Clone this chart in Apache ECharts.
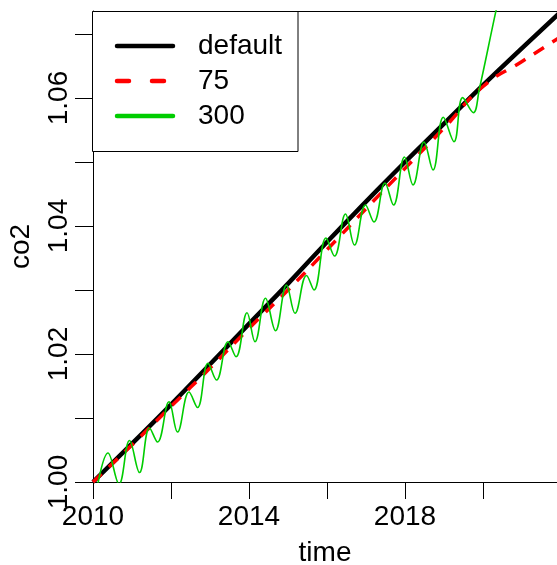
<!DOCTYPE html>
<html>
<head>
<meta charset="utf-8">
<script src="https://cdn.jsdelivr.net/npm/echarts@6/dist/echarts.min.js"></script>
<style>
  html, body { margin: 0; padding: 0; background: #fff; }
  #chart { width: 557px; height: 565px; }
</style>
</head>
<body>
<div id="chart"></div>
<script>
// Smoothed co2 index by time: default fit, span 75 and span 300
const fitYears = [2010, 2011, 2012, 2013, 2014, 2015, 2016, 2017, 2018, 2019, 2020, 2021, 2022];
const fitDefault = [1.0000, 1.0060, 1.0121, 1.0184, 1.0247, 1.0310, 1.0375, 1.0438, 1.0500, 1.0560, 1.0620, 1.0678, 1.0735];
const fit75 = [1.0000, 1.0058, 1.0118, 1.0178, 1.0240, 1.0300, 1.0363, 1.0427, 1.0490, 1.0553, 1.0618, 1.0657, 1.0696];

const fit300Years = [
  2010.077, 2010.385, 2010.667, 2010.936, 2011.192, 2011.449, 2011.654, 2011.949,
  2012.167, 2012.462, 2012.679, 2012.949, 2013.167, 2013.462, 2013.667, 2013.949,
  2014.154, 2014.423, 2014.679, 2014.962, 2015.179, 2015.474, 2015.667, 2015.974,
  2016.192, 2016.474, 2016.705, 2016.987, 2017.205, 2017.487, 2017.705, 2017.987,
  2018.205, 2018.487, 2018.718, 2018.982, 2019.256, 2019.479, 2019.751, 2019.905,
  2020.333, 2020.692
];
const fit300 = [
  0.99813, 1.00453, 0.99969, 1.00648, 1.00148, 1.00844, 1.00625, 1.01255,
  1.00781, 1.01406, 1.01164, 1.01855, 1.01594, 1.02192, 1.01958, 1.02645,
  1.02192, 1.02870, 1.02364, 1.03078, 1.02636, 1.03227, 1.03000, 1.03813,
  1.03531, 1.04188, 1.03703, 1.04328, 1.04063, 1.04672, 1.04328, 1.05078,
  1.04641, 1.05313, 1.04875, 1.05698, 1.05317, 1.06005, 1.05770, 1.06136,
  1.07364, 1.08344
];

const seriesNames = ['default', '75', '300'];
const seriesColors = ['#000000', '#FF0000', '#00CD00'];
const xTickLabels = [2010, 2014, 2018];
const yTickLabels = ['1.00', '1.02', '1.04', '1.06'];

const FONT = "'Liberation Sans', Arial, sans-serif";
const pairs = (xs, ys) => xs.map((x, i) => [x, ys[i]]);

const chart = echarts.init(document.getElementById('chart'), null, { renderer: 'canvas' });

const legendTop = 11.5, legendRow = 35;
const legendGraphics = [
  { type: 'rect', z: 100, shape: { x: 92.5, y: legendTop, width: 205.5, height: 140 },
    style: { fill: '#fff', stroke: '#000', lineWidth: 1 } }
];
seriesNames.forEach((name, i) => {
  const y = 46 + i * legendRow;
  legendGraphics.push({
    type: 'line', z: 101,
    shape: { x1: 117, y1: y, x2: i === 1 ? 168 : 173, y2: y },
    style: {
      stroke: seriesColors[i], lineWidth: 4.5, lineCap: 'round',
      lineDash: i === 1 ? [12, 23] : null
    }
  });
  legendGraphics.push({
    type: 'text', z: 101, x: 198, y: y,
    style: { text: name, font: '28px ' + FONT, fill: '#000', verticalAlign: 'middle', align: 'left' }
  });
});

chart.setOption({
  animation: false,
  backgroundColor: '#fff',
  grid: { left: 93, right: 0, top: 11, bottom: 83, containLabel: false, outerBoundsMode: 'none' },
  xAxis: [{
    type: 'value', position: 'bottom', min: 2010, max: 2021.897, interval: 2,
    axisLine: { show: true, onZero: false, lineStyle: { color: '#000', width: 1 } },
    axisTick: { show: true, length: 17, lineStyle: { color: '#000', width: 1 } },
    axisLabel: {
      showMaxLabel: false, showMinLabel: true, margin: 21,
      fontSize: 28, fontFamily: FONT, color: '#000',
      formatter: v => (xTickLabels.indexOf(Math.round(v)) >= 0 ? String(Math.round(v)) : '')
    },
    splitLine: { show: false },
    name: 'time', nameLocation: 'middle', nameGap: 57,
    nameTextStyle: { fontSize: 28, fontFamily: FONT, color: '#000' }
  }, {
    type: 'value', position: 'top', min: 2010, max: 2021.897,
    axisLine: { show: true, onZero: false, lineStyle: { color: '#000', width: 1 } },
    axisTick: { show: false }, axisLabel: { show: false }, splitLine: { show: false }
  }],
  yAxis: {
    type: 'value', min: 1.0, max: 1.07359, interval: 0.01,
    axisLine: { show: true, onZero: false, lineStyle: { color: '#000', width: 1 } },
    axisTick: { show: true, length: 18, lineStyle: { color: '#000', width: 1 } },
    axisLabel: {
      rotate: 90, margin: 20, showMaxLabel: false,
      fontSize: 28, fontFamily: FONT, color: '#000',
      formatter: v => { const s = v.toFixed(2); return yTickLabels.indexOf(s) >= 0 ? s : ''; }
    },
    splitLine: { show: false },
    name: 'co2', nameLocation: 'middle', nameGap: 58,
    nameTextStyle: { fontSize: 28, fontFamily: FONT, color: '#000' }
  },
  series: [
    { name: seriesNames[0], type: 'line', data: pairs(fitYears, fitDefault), smooth: true,
      showSymbol: false, clip: true, lineStyle: { color: seriesColors[0], width: 4.5 } },
    { name: seriesNames[1], type: 'line', data: pairs(fitYears, fit75), smooth: true,
      showSymbol: false, clip: true, lineStyle: { color: seriesColors[1], width: 3.5, type: [12, 10] } },
    { name: seriesNames[2], type: 'line', data: pairs(fit300Years, fit300), smooth: 0.4,
      showSymbol: false, clip: true, lineStyle: { color: seriesColors[2], width: 1.6 } }
  ],
  graphic: legendGraphics
});
</script>
</body>
</html>
